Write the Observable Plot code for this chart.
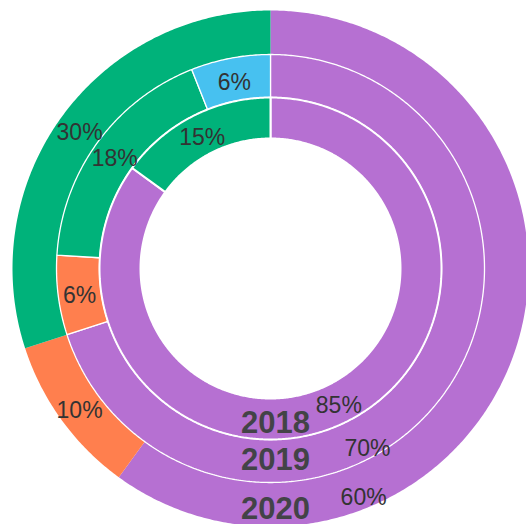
<!DOCTYPE html>
<html><head><meta charset="utf-8">
<script src="https://cdn.jsdelivr.net/npm/d3@7"></script>
<script src="https://cdn.jsdelivr.net/npm/@observablehq/plot@0.6"></script>
<style>html,body{margin:0;padding:0;background:#fff;overflow:hidden}</style>
</head><body><div id="chart"></div>
<script>
// ---- data ----
const years = ["2018", "2019", "2020"];              // inner ring -> outer ring
const series = ["A", "B", "C", "D"];                  // drawn clockwise from 12 o'clock
const seriesA = [85, 70, 60];                         // purple
const seriesB = [0, 6, 10];                           // orange
const seriesC = [15, 18, 30];                         // green
const seriesD = [0, 6, 0];                            // blue
const valuesBySeries = [seriesA, seriesB, seriesC, seriesD];

// ---- presentation ----
const colors = ["#b670d2", "#ff7f4e", "#00b27a", "#47c1f0"];
const ringEdges = [130, 171, 214, 258];               // radii in px
const ringStroke = [2, 1.3, 0];
const yearLabelRadius = [152, 189, 238];
// label placement overrides (angle in degrees clockwise from top, fraction of ring depth)
const labelOverride = {"2019|A": [151.3, 0.72], "2020|A": [157.6, 0.69]};

const W = 526, H = 524, CX = 270, CY = 268;
const rad = d => d * Math.PI / 180;

const polys = [];
const labels = [];
years.forEach((yr, ri) => {
  const r0 = ringEdges[ri], r1 = ringEdges[ri + 1];
  let acc = 0;
  series.forEach((s, si) => {
    const v = valuesBySeries[si][ri];
    if (!v) return;
    const a0 = acc / 100 * 360, a1 = (acc + v) / 100 * 360;
    acc += v;
    const id = yr + "|" + s;
    const n = Math.max(2, Math.ceil((a1 - a0) / 0.5));
    for (let k = 0; k <= n; k++) {
      const a = rad(a0 + (a1 - a0) * k / n);
      polys.push({id, ring: ri, series: s, x: r1 * Math.sin(a), y: r1 * Math.cos(a)});
    }
    for (let k = n; k >= 0; k--) {
      const a = rad(a0 + (a1 - a0) * k / n);
      polys.push({id, ring: ri, series: s, x: r0 * Math.sin(a), y: r0 * Math.cos(a)});
    }
    let la = (a0 + a1) / 2, lf = 0.5;
    if (labelOverride[id]) [la, lf] = labelOverride[id];
    const lr = r0 + (r1 - r0) * lf;
    labels.push({x: lr * Math.sin(rad(la)), y: lr * Math.cos(rad(la)), text: v + "%"});
  });
});
const yearLabels = years.map((yr, ri) => ({x: 0, y: -yearLabelRadius[ri], text: yr}));

const ringMarks = [2, 1, 0].map(ri => Plot.line(polys.filter(d => d.ring === ri), {
  x: "x", y: "y", z: "id", fill: "series", curve: "linear-closed",
  stroke: ringStroke[ri] ? "white" : "none", strokeWidth: ringStroke[ri],
  strokeLinejoin: "miter", clip: true
}));

const chart = Plot.plot({
  width: W, height: H,
  marginTop: 0, marginRight: 0, marginBottom: 0, marginLeft: 0,
  x: {domain: [-CX, W - CX], range: [0, W], axis: null},
  y: {domain: [CY - H, CY], range: [H, 0], axis: null},
  color: {domain: series, range: colors},
  style: {fontFamily: "'Liberation Sans', Arial, sans-serif", background: "white"},
  marks: [
    ...ringMarks,
    Plot.text(labels, {x: "x", y: "y", text: "text", fontSize: 23, fill: "#333", dy: 3}),
    Plot.text(yearLabels, {x: "x", y: "y", text: "text", fontSize: 31, fontWeight: "bold", fill: "#434347", dx: 5, dy: 3})
  ]
});
document.getElementById("chart").appendChild(chart);
</script>
</body></html>
